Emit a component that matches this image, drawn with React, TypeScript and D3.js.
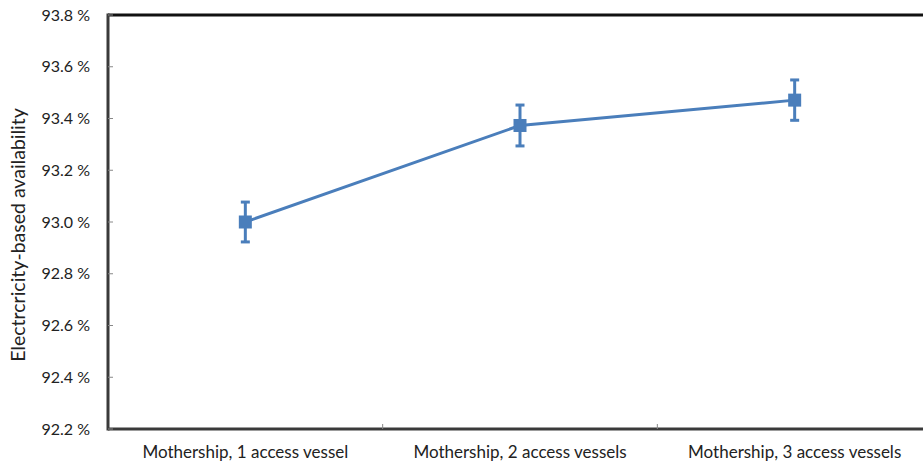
import React from "react";
import * as d3 from "d3";

const categories = [
  "Mothership, 1 access vessel",
  "Mothership, 2 access vessels",
  "Mothership, 3 access vessels",
];
const values = [93.0, 93.373, 93.471];
const errors = [0.077, 0.079, 0.078];
const yTicks = [92.2, 92.4, 92.6, 92.8, 93.0, 93.2, 93.4, 93.6, 93.8];
const yTitle = "Electrcricity-based availability";

const W = 923;
const H = 464;
const left = 108;
const right = 932;
const top = 15;
const bottom = 429;
const blue = "#4a7ebb";
const font = "Lato, 'Open Sans', sans-serif";

export default function App() {
  const x = d3.scaleBand<string>().domain(categories).range([left, right]);
  const y = d3.scaleLinear().domain([92.2, 93.8]).range([bottom, top]);
  const cx = (c: string) => (x(c) as number) + x.bandwidth() / 2;
  const line = d3
    .line<number>()
    .x((_, i) => cx(categories[i]))
    .y((d) => y(d));
  const ms = 13;
  return (
    <svg
      width={W}
      height={H}
      style={{ position: "absolute", left: 0, top: 0, display: "block" }}
    >
      <rect x={0} y={0} width={W} height={H} fill="#fff" />
      {/* frame */}
      <line x1={left} x2={right} y1={top} y2={top} stroke="#111" strokeWidth={3} />
      <line x1={left} x2={right} y1={bottom} y2={bottom} stroke="#3a3a3a" strokeWidth={3} />
      <line x1={left} x2={left} y1={top - 1.5} y2={bottom + 1.5} stroke="#3a3a3a" strokeWidth={3} />
      {/* y ticks */}
      {yTicks.map((t) => (
        <g key={t}>
          <line x1={left} x2={left + 5} y1={y(t)} y2={y(t)} stroke="#888" strokeWidth={1} />
          <text
            x={90}
            y={y(t)}
            dy="0.35em"
            textAnchor="end"
            fontFamily={font}
            fontSize={16}
            fill="#222"
          >
            {t.toFixed(1) + " %"}
          </text>
        </g>
      ))}
      {/* x ticks */}
      {categories.slice(1).map((c) => (
        <line
          key={c}
          x1={x(c) as number}
          x2={x(c) as number}
          y1={bottom}
          y2={bottom - 5}
          stroke="#888"
          strokeWidth={1}
        />
      ))}
      {categories.map((c) => (
        <text
          key={c}
          x={cx(c)}
          y={458}
          textAnchor="middle"
          fontFamily={font}
          fontSize={17}
          fill="#222"
        >
          {c}
        </text>
      ))}
      <text
        transform={`translate(25,235) rotate(-90)`}
        textAnchor="middle"
        fontFamily={font}
        fontSize={19.5}
        fill="#222"
      >
        {yTitle}
      </text>
      {/* series */}
      <path d={line(values) || ""} fill="none" stroke={blue} strokeWidth={3} />
      {values.map((v, i) => {
        const px = cx(categories[i]);
        const y1 = y(v + errors[i]);
        const y2 = y(v - errors[i]);
        return (
          <g key={i}>
            <line x1={px} x2={px} y1={y1} y2={y2} stroke={blue} strokeWidth={3} />
            <line x1={px - 4.5} x2={px + 4.5} y1={y1} y2={y1} stroke={blue} strokeWidth={3} />
            <line x1={px - 4.5} x2={px + 4.5} y1={y2} y2={y2} stroke={blue} strokeWidth={3} />
            <rect x={px - ms / 2} y={y(v) - ms / 2} width={ms} height={ms} fill={blue} />
          </g>
        );
      })}
    </svg>
  );
}
